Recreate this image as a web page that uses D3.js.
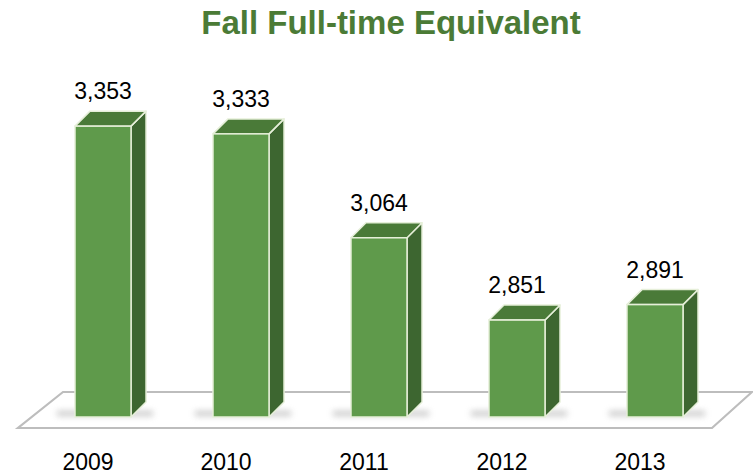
<!DOCTYPE html>
<html><head><meta charset="utf-8">
<script src="https://cdn.jsdelivr.net/npm/d3@7"></script>
<style>body{margin:0;background:#fff}svg{display:block}</style>
</head><body>
<svg id="c" width="753" height="474"></svg>
<script>
const title = "Fall Full-time Equivalent";
const years = ["2009","2010","2011","2012","2013"];
const fte = [3353, 3333, 3064, 2851, 2891];

const svg = d3.select("#c");
const W = 753, H = 474;
const dx = 15, dy = -15;

const x = d3.scaleBand().domain(years).range([75, 683]).paddingInner(0.594).paddingOuter(0);
const y = d3.scaleLinear().domain([2600, 3400]).range([417, 108]);
const fmt = d3.format(",");

const defs = svg.append("defs");
const blur = defs.append("filter").attr("id","blur").attr("x","-50%").attr("y","-200%").attr("width","200%").attr("height","500%");
blur.append("feGaussianBlur").attr("stdDeviation", 3);

// title
svg.append("text").attr("x", 391).attr("y", 34).attr("text-anchor","middle")
  .attr("font-family","Liberation Sans, Arial, sans-serif").attr("font-weight","bold")
  .attr("font-size", 33).attr("fill","#4b7b36").text(title);

// floor
const fl = 428, bk = 392;
svg.append("path")
  .attr("d", `M18,${fl} L712,${fl} L752,${bk} L63,${bk} Z`)
  .attr("fill","#fff").attr("stroke","#bdbdbd").attr("stroke-width",2.2);

// shadows on floor
svg.append("g").selectAll("rect").data(years).join("rect")
  .attr("x", d => x(d) - 18).attr("y", y.range()[0] - 6)
  .attr("width", x.bandwidth() + 40).attr("height", 5)
  .attr("fill","#9a9a9a").attr("opacity",0.55).attr("filter","url(#blur)");

const bars = svg.append("g").selectAll("g").data(years).join("g");
const base = y.range()[0];
const bw = x.bandwidth();
const stroke = "#e6efd9";
// side
bars.append("path")
  .attr("d", (d,i) => { const x1 = x(d)+bw, t = y(fte[i]);
    return `M${x1},${t} L${x1+dx},${t+dy} L${x1+dx},${base+dy} L${x1},${base} Z`; })
  .attr("fill","#3d6630").attr("stroke",stroke).attr("stroke-width",1.5).attr("stroke-linejoin","round");
// top
bars.append("path")
  .attr("d", (d,i) => { const x0 = x(d), t = y(fte[i]);
    return `M${x0},${t} L${x0+dx},${t+dy} L${x0+bw+dx},${t+dy} L${x0+bw},${t} Z`; })
  .attr("fill","#4a7a38").attr("stroke",stroke).attr("stroke-width",1.5).attr("stroke-linejoin","round");
// front
bars.append("rect")
  .attr("x", d => x(d)).attr("y", (d,i) => y(fte[i]))
  .attr("width", bw).attr("height", (d,i) => base - y(fte[i]))
  .attr("fill","#5f9a4b").attr("stroke",stroke).attr("stroke-width",1.5);

// value labels
svg.append("g").selectAll("text").data(years).join("text")
  .attr("x", d => x(d) + bw/2).attr("y", (d,i) => y(fte[i]) - 27)
  .attr("text-anchor","middle").attr("font-family","Liberation Sans, Arial, sans-serif")
  .attr("font-size", 23).attr("fill","#000").text((d,i) => fmt(fte[i]));

// category labels
svg.append("g").selectAll("text").data(years).join("text")
  .attr("x", d => x(d) + bw/2 - 15).attr("y", 470)
  .attr("text-anchor","middle").attr("font-family","Liberation Sans, Arial, sans-serif")
  .attr("font-size", 23).attr("fill","#000").text(d => d);
</script>
</body></html>
